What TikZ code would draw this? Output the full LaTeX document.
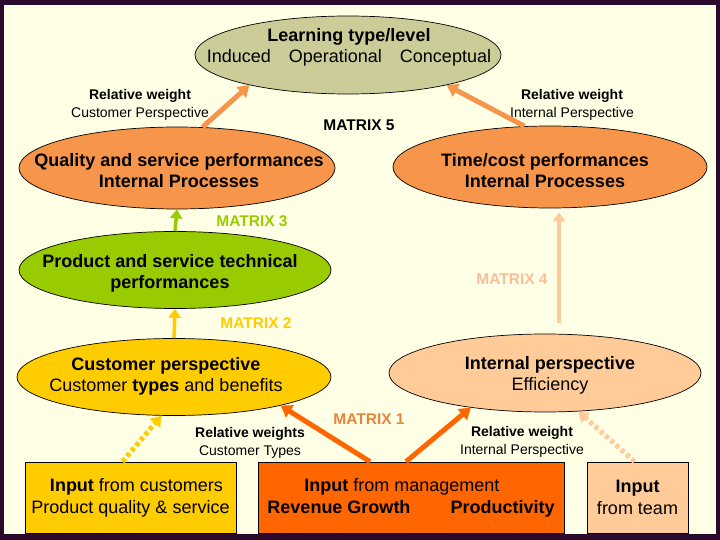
\documentclass[tikz,border=0pt]{standalone}
\usepackage{fontspec}
\setmainfont{Liberation Sans}
\usepackage{tikz}
\usetikzlibrary{shapes.geometric, arrows.meta, positioning}
\definecolor{framepurple}{HTML}{2B0A2B}
\definecolor{slidecream}{HTML}{FFFFE6}
\definecolor{learnkhaki}{HTML}{CCCC99}
\definecolor{perforange}{HTML}{F7964A}
\definecolor{techgreen}{HTML}{99CC00}
\definecolor{custyellow}{HTML}{FFCC00}
\definecolor{intpeach}{HTML}{FFCC99}
\definecolor{mgmtorange}{HTML}{FF6600}
\definecolor{matrixone}{HTML}{E8843C}
\definecolor{matrixfour}{HTML}{F9BF99}
\tikzset{
  ellnode/.style={
    ellipse, draw=black, line width=0.7pt, inner sep=0pt
  },
  elltext/.style={
    align=center, inner sep=0pt,
    font=\fontsize{18}{21}\selectfont
  },
  inbox/.style={
    rectangle, draw=black, line width=0.7pt,
    inner sep=0pt, align=center,
    font=\fontsize{18}{22}\selectfont
  },
  weightlabel/.style={
    align=center, inner sep=1pt,
    font=\fontsize{14}{18}\selectfont
  },
  matrixlabel/.style={
    inner sep=1pt,
    font=\fontsize{15.5}{17}\selectfont\bfseries
  },
  fatarrow/.style={
    -{Triangle[length=11pt, width=14pt]}, line width=5pt
  },
  thinarrow/.style={
    -{Triangle[length=9pt, width=12pt]}, line width=3.5pt
  },
  dotarrow/.style={
    -{Triangle[length=10pt, width=13pt]}, line width=5pt,
    dash pattern=on 4pt off 3pt
  }
}

\begin{document}
\begin{tikzpicture}[x=1pt, y=-1pt]

  % ── Slide frame ───────────────────────────────────────────────────────
  \useasboundingbox (0,0) rectangle (720,540);
  \fill[framepurple] (0,0) rectangle (720,540);
  \fill[slidecream] (4,5) rectangle (716,534);

  % ── Ellipses ──────────────────────────────────────────────────────────
  \node[ellnode, fill=learnkhaki, minimum width=306pt, minimum height=78pt] (learn) at (348,55) {};
  \node[ellnode, fill=perforange, minimum width=316pt, minimum height=82pt] (qual) at (177,168) {};
  \node[ellnode, fill=perforange, minimum width=314pt, minimum height=82pt] (time) at (550,167) {};
  \node[ellnode, fill=techgreen,  minimum width=312pt, minimum height=77pt] (tech) at (175,270) {};
  \node[ellnode, fill=custyellow, minimum width=314pt, minimum height=77pt] (cust) at (174,377) {};
  \node[ellnode, fill=intpeach,   minimum width=312pt, minimum height=78pt] (intp) at (545,373) {};

  % ellipse texts
  \node[elltext] (learntext) at (349,47)
    {\textbf{Learning type/level}\\Induced\quad Operational\quad Conceptual};
  \node[elltext] (qualtext) at (179,171)
    {\textbf{Quality and service performances}\\\textbf{Internal Processes}};
  \node[elltext] (timetext) at (545,171)
    {\textbf{Time/cost performances}\\\textbf{Internal Processes}};
  \node[elltext] (techtext) at (170,273)
    {\textbf{Product and service technical}\\\textbf{performances}};
  \node[elltext] (custtext) at (166,376)
    {\textbf{Customer perspective}\\Customer \textbf{types} and benefits};
  \node[elltext] (intptext) at (550,375)
    {\textbf{Internal perspective}\\Efficiency};

  % ── Input boxes ───────────────────────────────────────────────────────
  \node[inbox, fill=custyellow, minimum width=211pt, minimum height=71pt] (custbox) at (130.5,497.5)
    {\hspace*{12pt}\textbf{Input} from customers\\Product quality \& service};
  \node[inbox, fill=mgmtorange, minimum width=306pt, minimum height=71pt] (mgmtbox) at (411,497.5)
    {\textbf{Input} from management\hspace*{18pt}\\\textbf{Revenue Growth\hspace{40pt}Productivity}};
  \node[inbox, fill=intpeach, minimum width=101pt, minimum height=71pt] (teambox) at (637.5,497.5)
    {\textbf{Input}\\from team};

  % ── Weight labels ─────────────────────────────────────────────────────
  \node[weightlabel] (wcustp) at (140,105) {\textbf{Relative weight}\\Customer Perspective};
  \node[weightlabel] (wintp)  at (572,105) {\textbf{Relative weight}\\Internal Perspective};
  \node[weightlabel] (wcustt) at (250,443) {\textbf{Relative weights}\\Customer Types};
  \node[weightlabel] (wintb)  at (522,442) {\textbf{Relative weight}\\Internal Perspective};

  % ── Matrix labels ─────────────────────────────────────────────────────
  \node[matrixlabel]                   (mat5) at (359,125) {MATRIX 5};
  \node[matrixlabel, text=techgreen]   (mat3) at (252,221) {MATRIX 3};
  \node[matrixlabel, text=custyellow]  (mat2) at (256,323) {MATRIX 2};
  \node[matrixlabel, text=matrixfour]  (mat4) at (512,279) {MATRIX 4};
  \node[matrixlabel, text=matrixone]   (mat1) at (369,419) {MATRIX 1};

  % ── Arrows ────────────────────────────────────────────────────────────
  \draw[fatarrow, perforange] (qual.58)  -- (learn.197);
  \draw[fatarrow, perforange] (time.122) -- (learn.-17);
  \draw[thinarrow, techgreen]  (tech.north) -- (qual.south);
  \draw[thinarrow, custyellow] (cust.north) -- (tech.south);
  \draw[thinarrow, intpeach] ([xshift=14pt, yshift=11pt]intp.north) -- ([xshift=9pt, yshift=-4pt]time.south);
  \draw[fatarrow, mgmtorange] ([xshift=-41pt]mgmtbox.north) -- (cust.-15);
  \draw[fatarrow, mgmtorange] ([xshift=-5pt]mgmtbox.north) -- (intp.205);
  \draw[dotarrow, custyellow] ([xshift=-8pt]custbox.north) -- (cust.252);
  \draw[dotarrow, intpeach]   ([xshift=-3pt]teambox.north) -- (intp.-49);

\end{tikzpicture}
\end{document}
